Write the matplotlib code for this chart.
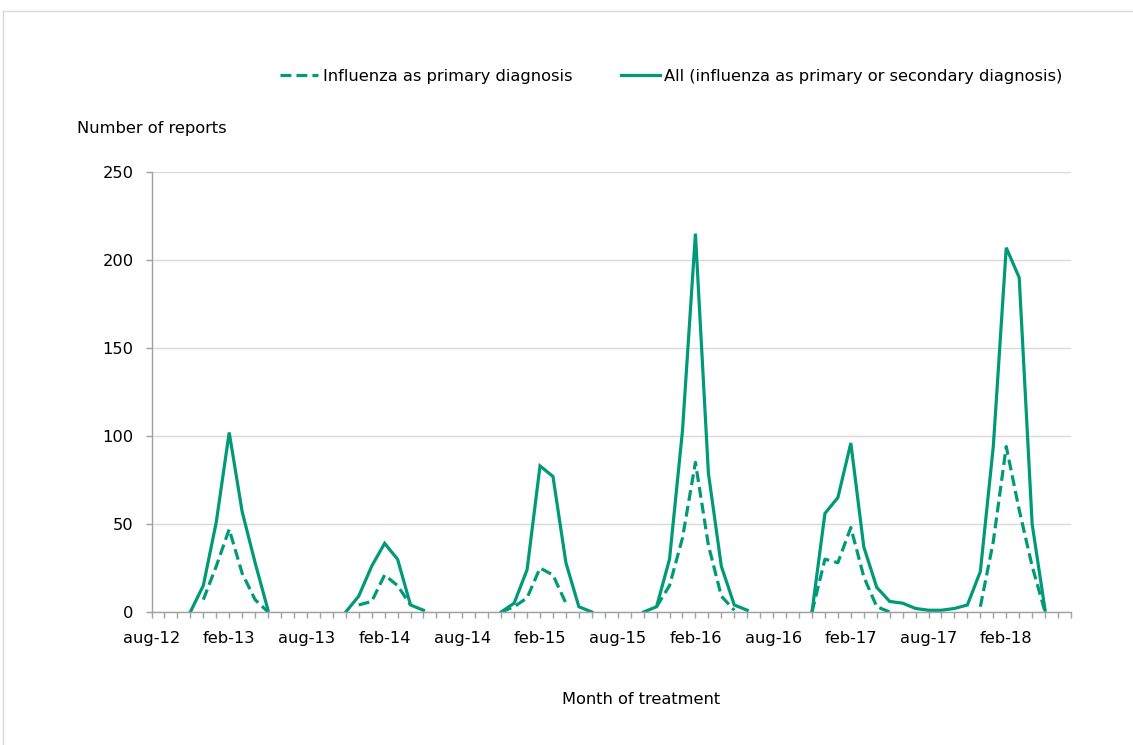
import numpy as np
import pandas as pd
import matplotlib
matplotlib.use("Agg")
import matplotlib.pyplot as plt
from matplotlib.lines import Line2D

# monthly reports, aug-12 .. jul-18 (None = no value reported)
months = pd.date_range("2012-08-01", periods=72, freq="MS").strftime("%b-%y").str.lower()

all_dx = [
    None, None, None, 0, 15, 51, 102, 57, 28, 1, None, None,      # aug-12 .. jul-13
    None, None, None, 0, 9, 26, 39, 30, 4, 1, None, None,         # aug-13 .. jul-14
    None, None, None, 0, 5, 24, 83, 77, 28, 3, 0, None,           # aug-14 .. jul-15
    None, None, 0, 3, 30, 103, 215, 79, 26, 4, 1, None,           # aug-15 .. jul-16
    None, None, None, 0, 56, 65, 96, 37, 14, 6, 5, 2,             # aug-16 .. jul-17
    1, 1, 2, 4, 23, 94, 207, 190, 50, 1, None, None,              # aug-17 .. jul-18
]
primary_dx = [
    None, None, None, None, 7, 26, 47, 22, 7, 0, None, None,
    None, None, None, None, 4, 6, 21, 15, 4, None, None, None,
    None, None, None, 0, 3, 8, 25, 21, 5, None, None, None,
    None, None, None, 3, 15, 42, 85, 38, 9, 1, None, None,
    None, None, None, 0, 30, 28, 48, 20, 3, 0, None, None,
    None, None, None, None, 3, 40, 94, 58, 26, 0, None, None,
]

y_ticks = [0, 50, 100, 150, 200, 250]

green = "#009a78"
grid_col = "#d9d9d9"
axis_col = "#a0a0a0"

plt.rcParams["font.family"] = ["DejaVu Sans"]
fs = 11.7

W, H = 1133, 745
fig = plt.figure(figsize=(W / 100, H / 100), dpi=100)
ax = fig.add_axes([151.5 / W, 1 - 612 / H, (1071 - 151.5) / W, (612 - 172) / H])

x = np.arange(len(months))
a = np.array([np.nan if v is None else v for v in all_dx], dtype=float)
p = np.array([np.nan if v is None else v for v in primary_dx], dtype=float)

ax.plot(x, p, color=green, lw=2.3, dashes=(3.4, 1.6), solid_capstyle="butt",
        label="Influenza as primary diagnosis")
ax.plot(x, a, color=green, lw=2.3, solid_joinstyle="miter",
        label="All (influenza as primary or secondary diagnosis)")

ax.set_xlim(0, 71)
ax.set_ylim(0, 250)
ax.set_yticks(y_ticks)
ax.set_xticks(x[::6])
ax.set_xticklabels(months[::6])
ax.set_xticks(x, minor=True)

for s in ["top", "right"]:
    ax.spines[s].set_visible(False)
for s in ["left", "bottom"]:
    ax.spines[s].set_color(axis_col)
    ax.spines[s].set_linewidth(1)

ax.grid(axis="y", color=grid_col, lw=1)
ax.set_axisbelow(True)
ax.tick_params(axis="y", length=4, width=1, color=axis_col, pad=9, labelsize=fs)
ax.tick_params(axis="x", which="both", length=4.5, width=1, color=axis_col, pad=9, labelsize=fs)

fig.text(77 / W, 1 - 128 / H, "Number of reports", fontsize=fs, va="center", ha="left")
fig.text(641 / W, 1 - 699 / H, "Month of treatment", fontsize=fs, va="center", ha="center")

fig.legend(loc="center left", bbox_to_anchor=(280 / W, 1 - 76 / H), ncol=2,
           frameon=False, fontsize=fs, handlelength=2.35, handletextpad=0.3,
           columnspacing=3.0, borderpad=0, borderaxespad=0)

# light chart-area border
fig.add_artist(Line2D([3 / W, 1], [1 - 11 / H, 1 - 11 / H], color=grid_col, lw=1))
fig.add_artist(Line2D([3 / W, 3 / W], [0, 1 - 11 / H], color=grid_col, lw=1))

fig.savefig("out.png", dpi=100)
